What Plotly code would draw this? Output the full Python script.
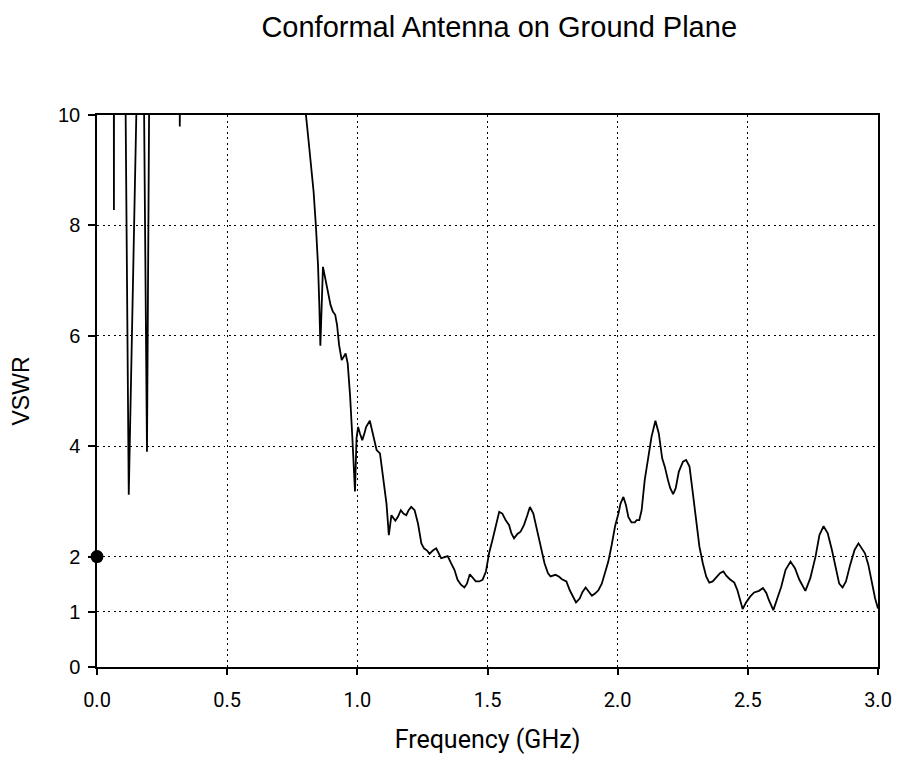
import plotly.graph_objects as go

# Frequency (GHz) and VSWR values
freq = [0.000, 0.030, 0.060, 0.063, 0.065, 0.067, 0.090, 0.108, 0.122, 0.155,
        0.170, 0.179, 0.192, 0.202, 0.250, 0.300, 0.316, 0.318, 0.320, 0.400,
        0.600, 0.750, 0.795,
        0.803, 0.813, 0.823, 0.832, 0.841, 0.849, 0.854, 0.858, 0.868, 0.877,
        0.887, 0.897, 0.906, 0.915, 0.922, 0.930, 0.940, 0.947, 0.955, 0.963,
        0.972, 0.981, 0.987, 0.991, 0.997, 1.003, 1.010, 1.019, 1.027, 1.034,
        1.048, 1.057, 1.065, 1.074, 1.087, 1.097, 1.112, 1.121, 1.131, 1.146,
        1.156, 1.167, 1.177, 1.188, 1.197, 1.207, 1.220, 1.233, 1.246, 1.256,
        1.268, 1.277, 1.290, 1.303, 1.309, 1.322, 1.335, 1.347, 1.360, 1.373,
        1.385, 1.398, 1.411, 1.421, 1.432, 1.443, 1.455, 1.468, 1.481, 1.494,
        1.506, 1.519, 1.532, 1.545, 1.557, 1.570, 1.583, 1.592, 1.602, 1.615,
        1.627, 1.640, 1.653, 1.663, 1.676, 1.688, 1.704, 1.719, 1.732, 1.742,
        1.761, 1.774, 1.786, 1.803, 1.816, 1.828, 1.840, 1.854, 1.865, 1.877,
        1.888, 1.901, 1.913, 1.926, 1.939, 1.952, 1.964, 1.977, 1.990, 2.003,
        2.011, 2.022, 2.032, 2.041, 2.053, 2.066, 2.073, 2.083, 2.092, 2.104,
        2.117, 2.130, 2.145, 2.158, 2.171, 2.181, 2.193, 2.202, 2.213, 2.223,
        2.235, 2.251, 2.263, 2.276, 2.289, 2.302, 2.314, 2.327, 2.340, 2.352,
        2.365, 2.378, 2.393, 2.406, 2.418, 2.431, 2.448, 2.460, 2.470, 2.480,
        2.492, 2.508, 2.524, 2.543, 2.558, 2.571, 2.581, 2.598, 2.613, 2.628,
        2.645, 2.664, 2.681, 2.698, 2.721, 2.740, 2.760, 2.775, 2.791, 2.807,
        2.823, 2.839, 2.851, 2.864, 2.877, 2.893, 2.910, 2.925, 2.938, 2.950,
        2.963, 2.976, 2.989, 3.000]
vswr = [14.0, 14.0, 14.0, 20.0, 8.28, 20.0, 16.0, 11.15, 3.12, 10.95,
        13.0, 11.1, 3.90, 11.5, 14.0, 13.0, 12.0, 9.79, 12.0, 15.0,
        14.0, 12.0, 10.35,
        9.98, 9.52, 9.09, 8.61, 7.98, 7.28, 6.56, 5.82, 7.25, 7.04,
        6.86, 6.56, 6.44, 6.38, 6.20, 5.83, 5.56, 5.62, 5.68, 5.50,
        4.93, 4.14, 3.54, 3.18, 4.15, 4.35, 4.23, 4.11, 4.23, 4.35,
        4.46, 4.29, 4.14, 3.93, 3.87, 3.54, 2.96, 2.39, 2.75, 2.65,
        2.72, 2.84, 2.78, 2.75, 2.84, 2.90, 2.84, 2.60, 2.24, 2.15,
        2.11, 2.05, 2.11, 2.15, 2.09, 1.97, 1.99, 2.01, 1.88, 1.76,
        1.58, 1.49, 1.44, 1.51, 1.68, 1.61, 1.55, 1.55, 1.58, 1.73,
        2.06, 2.30, 2.54, 2.81, 2.78, 2.66, 2.57, 2.42, 2.33, 2.41,
        2.45, 2.57, 2.75, 2.90, 2.78, 2.54, 2.18, 1.88, 1.70, 1.64,
        1.67, 1.64, 1.59, 1.55, 1.39, 1.27, 1.17, 1.24, 1.36, 1.44,
        1.38, 1.29, 1.33, 1.39, 1.51, 1.70, 1.91, 2.21, 2.55, 2.78,
        2.96, 3.08, 2.93, 2.72, 2.62, 2.62, 2.66, 2.66, 2.84, 3.39,
        3.81, 4.17, 4.46, 4.23, 3.78, 3.63, 3.39, 3.24, 3.13, 3.24,
        3.54, 3.72, 3.75, 3.63, 3.14, 2.60, 2.18, 1.88, 1.64, 1.53,
        1.55, 1.62, 1.70, 1.73, 1.65, 1.59, 1.53, 1.39, 1.21, 1.05,
        1.16, 1.27, 1.35, 1.38, 1.43, 1.34, 1.21, 1.03, 1.24, 1.45,
        1.76, 1.91, 1.79, 1.58, 1.38, 1.61, 2.00, 2.39, 2.55, 2.42,
        2.12, 1.79, 1.51, 1.44, 1.55, 1.85, 2.12, 2.24, 2.15, 2.06,
        1.85, 1.51, 1.24, 1.06]

marker_x = [0.0]
marker_y = [2.0]

x_ticks = [0.0, 0.5, 1.0, 1.5, 2.0, 2.5, 3.0]
x_ticklabels = ["0.0", "0.5", "1.0", "1.5", "2.0", "2.5", "3.0"]
y_ticks = [0, 1, 2, 4, 6, 8, 10]
y_ticklabels = ["0", "1", "2", "4", "6", "8", "10"]

fig = go.Figure()
fig.add_trace(go.Scatter(x=freq, y=vswr, mode="lines",
                         line=dict(color="black", width=1.8),
                         showlegend=False, hoverinfo="x+y"))
fig.add_trace(go.Scatter(x=marker_x, y=marker_y, mode="markers",
                         marker=dict(color="black", size=13),
                         cliponaxis=False, showlegend=False))

fig.update_layout(
    width=904, height=765,
    margin=dict(l=97, r=21, t=115, b=98),
    paper_bgcolor="white", plot_bgcolor="white",
    title=dict(text="Conformal Antenna on Ground Plane",
               font=dict(family="Liberation Sans, Arial", size=29, color="black"),
               x=0.515, xref="paper", xanchor="center",
               y=1 - 27 / 765, yref="container", yanchor="middle"),
    xaxis=dict(range=[0, 3], tickmode="array", tickvals=x_ticks, ticktext=x_ticklabels,
               showline=True, mirror=True, linecolor="black", linewidth=1.5,
               showgrid=True, gridcolor="black", gridwidth=1, griddash="2px,3.5px",
               zeroline=False, ticks="outside", ticklen=6, tickwidth=1.5, tickcolor="black",
               tickfont=dict(family="Roboto", size=20, color="black"),
               ticklabelstandoff=8,
               title=dict(text="Frequency (GHz)", standoff=20,
                          font=dict(family="Roboto", size=25, color="black"))),
    yaxis=dict(range=[0, 10], tickmode="array", tickvals=y_ticks, ticktext=y_ticklabels,
               showline=True, mirror=True, linecolor="black", linewidth=1.5,
               showgrid=True, gridcolor="black", gridwidth=1, griddash="2px,3.5px",
               zeroline=False, ticks="outside", ticklen=7, tickwidth=1.5, tickcolor="black",
               tickfont=dict(family="Liberation Sans, Arial", size=20, color="black"),
               ticklabelstandoff=4,
               title=dict(text="VSWR", standoff=22,
                          font=dict(family="Liberation Sans, Arial", size=23, color="black"))),
)

fig.write_html("out.html")
